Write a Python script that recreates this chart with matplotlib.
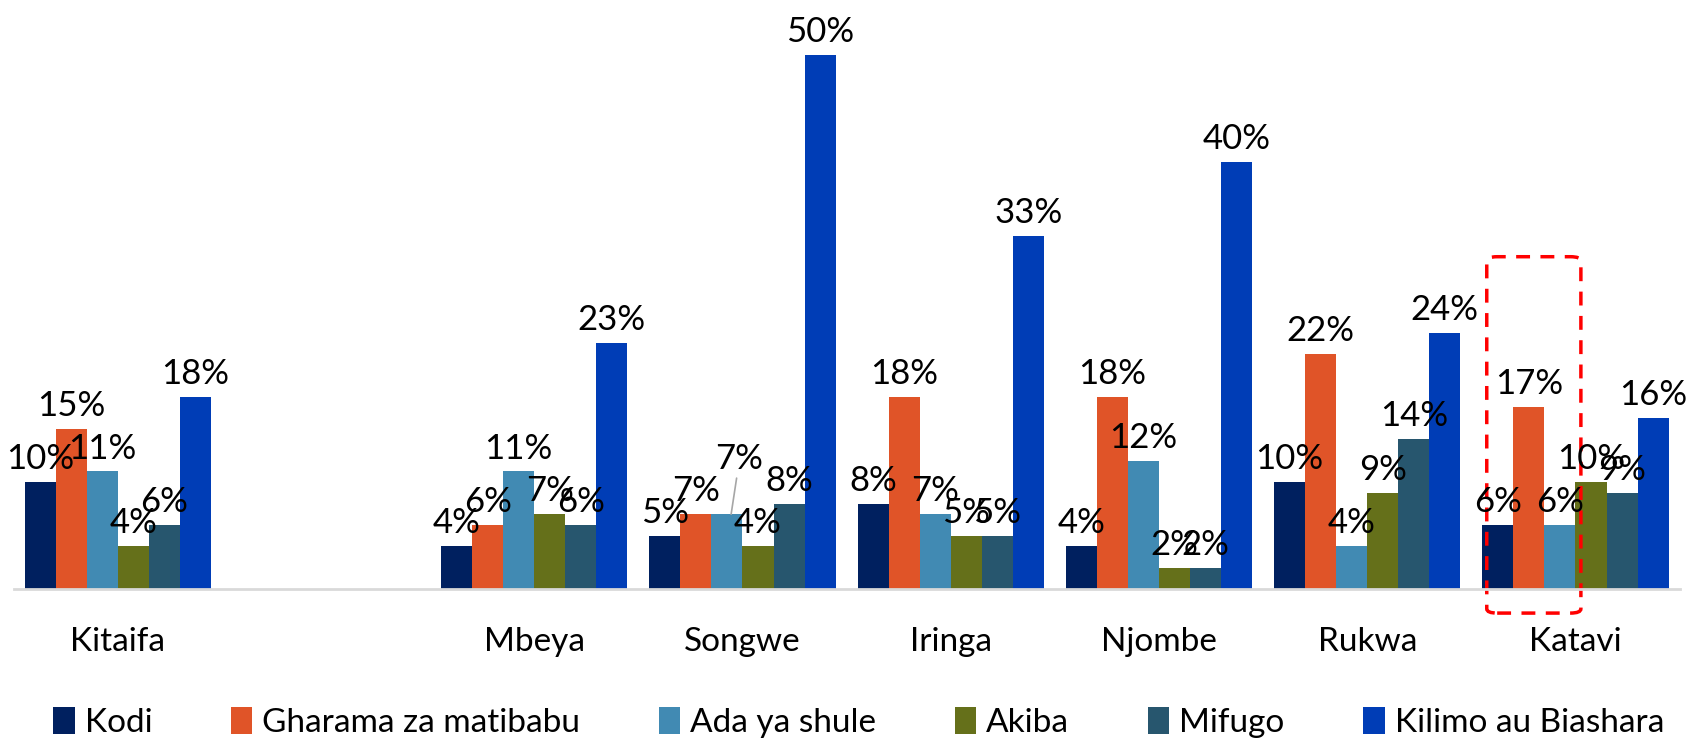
import matplotlib.pyplot as plt
import numpy as np
from matplotlib.patches import FancyBboxPatch, Patch

plt.rcParams['font.family'] = ['Lato', 'DejaVu Sans']

regions = ['Kitaifa', '', 'Mbeya', 'Songwe', 'Iringa', 'Njombe', 'Rukwa', 'Katavi']
series = ['Kodi', 'Gharama za matibabu', 'Ada ya shule', 'Akiba', 'Mifugo', 'Kilimo au Biashara']
kodi = [10, None, 4, 5, 8, 4, 10, 6]
gharama = [15, None, 6, 7, 18, 18, 22, 17]
ada = [11, None, 11, 7, 7, 12, 4, 6]
akiba = [4, None, 7, 4, 5, 2, 9, 10]
mifugo = [6, None, 6, 8, 5, 2, 14, 9]
kilimo = [18, None, 23, 50, 33, 40, 24, 16]
colors = ['#00205F', '#E05428', '#418AB3', '#65701A', '#27566E', '#003DB6']

values = [kodi, gharama, ada, akiba, mifugo, kilimo]

fig = plt.figure(figsize=(17, 7.4), dpi=100)
ax = fig.add_axes([0.008, 0.204, 0.98, 0.722])

x = np.arange(len(regions))
width = 0.149
for i, (name, vals, c) in enumerate(zip(series, values, colors)):
    pos = x + (i - 2.5) * width
    for p, v in zip(pos, vals):
        if v is None:
            continue
        ax.bar(p, v, width, color=c)
        if name == 'Ada ya shule' and regions[int(round(p))] == 'Songwe':
            # Songwe label pulled up with a leader line
            ax.annotate(f'{v}%', xy=(p + 0.02, v), xytext=(6, 28), textcoords='offset points',
                        ha='center', va='bottom', fontsize=25,
                        arrowprops=dict(arrowstyle='-', color='#A6A6A6', lw=1.2,
                                        shrinkA=0, shrinkB=0))
        else:
            ax.annotate(f'{v}%', xy=(p, v), xytext=(0, 5), textcoords='offset points',
                        ha='center', va='bottom', fontsize=25)

ax.set_xlim(-0.5, len(regions) - 0.5)
ax.set_ylim(0, 50)
ax.set_xticks(x)
ax.set_xticklabels(regions, fontsize=24)
ax.tick_params(axis='x', length=0, pad=27)
ax.set_yticks([])
for s in ['top', 'right', 'left']:
    ax.spines[s].set_visible(False)
ax.spines['bottom'].set_color('#D9D9D9')
ax.spines['bottom'].set_linewidth(2)

# highlight box around Katavi
box = FancyBboxPatch((6.574, -2.25), 0.452, 33.35, boxstyle='round,pad=0,rounding_size=0.05',
                     fill=False, edgecolor='#FF0000', linestyle=(0, (4, 3)), lw=2.5,
                     mutation_aspect=8, clip_on=False)
ax.add_patch(box)

handles = [Patch(facecolor=c, label=n) for n, c in zip(series, colors)]
fig.legend(handles=handles, loc='lower center', bbox_to_anchor=(0.505, -0.038), ncol=6,
           frameon=False, fontsize=24, handlelength=0.65, handleheight=0.85,
           handletextpad=0.3, columnspacing=2.35)

plt.savefig('out.png', dpi=100)
